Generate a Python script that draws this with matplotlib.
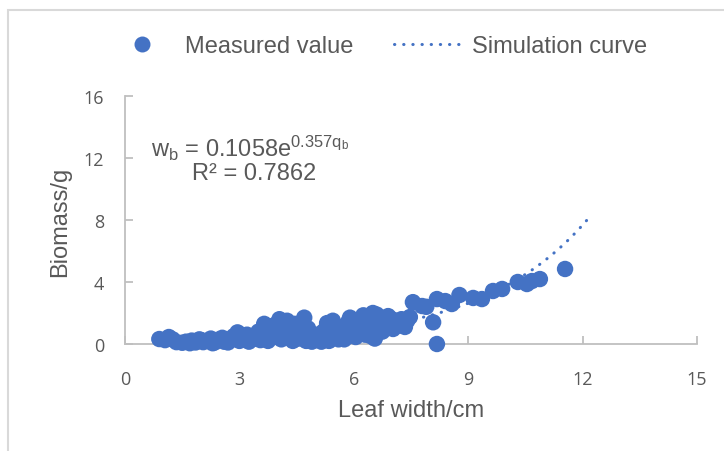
import numpy as np
import matplotlib
matplotlib.use("Agg")
import matplotlib.pyplot as plt
from matplotlib.lines import Line2D
from matplotlib.patches import Rectangle

# ---------------- data ----------------
leaf_width = [0.9, 1.05, 1.15, 1.25, 1.35, 1.5, 1.6, 1.7, 1.75, 1.85, 1.95, 2.0, 2.05, 2.15,
              2.25, 2.3, 2.35, 2.45, 2.55, 2.6, 2.7, 2.75, 2.85, 2.95, 3.0, 3.05, 3.1,
              3.2, 3.25, 3.3, 3.4, 3.45, 3.5, 3.55, 3.6, 3.65, 3.7, 3.75, 3.8, 3.85,
              3.9, 3.95, 4.0, 4.05, 4.1, 4.15, 4.2, 4.25, 4.3, 4.35, 4.4, 4.45, 4.5,
              4.55, 4.6, 4.65, 4.7, 4.75, 4.8, 4.85, 4.9, 4.95, 5.0, 5.05, 5.15, 5.2,
              5.25, 5.3, 5.35, 5.4, 5.45, 5.5, 5.6, 5.65, 5.7, 5.75, 5.8, 5.85, 5.9,
              5.95, 6.0, 6.05, 6.1, 6.15, 6.2, 6.25, 6.3, 6.35, 6.4, 6.45, 6.5, 6.55,
              6.6, 6.6, 6.7, 6.75, 6.8, 6.85, 6.9, 7.0, 7.03, 7.1, 7.2, 7.25, 7.34,
              7.4, 7.47, 7.55, 7.79, 7.9, 8.08, 8.18, 8.18, 8.4, 8.57, 8.77, 9.13,
              9.36, 9.65, 9.89, 10.3, 10.54, 10.67, 10.88, 11.54]
biomass = [0.32, 0.25, 0.45, 0.30, 0.12, 0.08, 0.15, 0.05, 0.22, 0.10, 0.30, 0.25, 0.12,
           0.20, 0.35, 0.05, 0.10, 0.28, 0.40, 0.15, 0.10, 0.30, 0.50, 0.75, 0.20, 0.60,
           0.45, 0.60, 0.15, 0.30, 0.50, 0.35, 0.80, 0.25, 0.90, 1.30, 0.60, 0.20, 0.40,
           0.95, 1.20, 0.70, 0.45, 1.60, 0.30, 0.80, 1.10, 1.50, 0.50, 0.85, 0.20, 1.30,
           1.00, 0.35, 0.70, 0.50, 1.70, 0.20, 1.00, 0.50, 0.15, 0.30, 0.40, 0.60, 0.15,
           0.80, 0.40, 1.35, 0.20, 0.70, 1.50, 1.00, 0.30, 0.90, 0.55, 0.30, 1.20, 1.40,
           1.70, 0.80, 1.15, 0.45, 1.50, 0.70, 1.00, 1.85, 0.60, 1.70, 1.30, 0.50, 2.00,
           0.35, 1.00, 1.90, 1.60, 0.80, 1.30, 1.50, 1.80, 1.60, 0.97, 1.40, 1.20, 1.60,
           1.10, 1.50, 1.74, 2.70, 2.45, 2.40, 1.40, 0.00, 2.90, 2.77, 2.58, 3.16, 2.97,
           2.90, 3.42, 3.55, 4.00, 3.87, 4.06, 4.19, 4.84]

fit_a = 0.1058
fit_b = 0.357
fit_x_range = [0.9, 12.2]

x_ticks = [0, 3, 6, 9, 12, 15]
y_ticks = [0, 4, 8, 12, 16]

legend_labels = ["Measured value", "Simulation curve"]
x_title = "Leaf width/cm"
y_title = "Biomass/g"
eq_line1 = r"w$\mathregular{_b}$ = 0.1058e$\mathregular{^{0.357q_b}}$"
eq_line2 = "R² = 0.7862"

# ---------------- style ----------------
BLUE = "#4472C4"
TXT = "#595959"
AX = "#BFBFBF"
plt.rcParams["font.family"] = ["Liberation Sans", "DejaVu Sans"]
plt.rcParams["mathtext.fontset"] = "custom"
plt.rcParams["mathtext.rm"] = "Liberation Sans"
plt.rcParams["mathtext.it"] = "Liberation Sans"

W, H = 724, 452
fig = plt.figure(figsize=(W / 100, H / 100), dpi=100)

def fx(px):
    return px / W

def fy(py):
    return 1 - py / H

ax = fig.add_axes([fx(125), fy(345), fx(697) - fx(125), fy(97) - fy(345)])

ax.scatter(leaf_width, biomass, s=140, color=BLUE, edgecolors="none", zorder=3,
           clip_on=False)

cx = np.linspace(fit_x_range[0], fit_x_range[1], 300)
cy = fit_a * np.exp(fit_b * cx)
ax.plot(cx, cy, color=BLUE, lw=2.2, dashes=(0.1, 2.9), dash_capstyle="round",
        zorder=4)

ax.set_xlim(0, 15)
ax.set_ylim(0, 16)
ax.set_xticks(x_ticks)
ax.set_yticks(y_ticks)
for side in ("top", "right"):
    ax.spines[side].set_visible(False)
for side in ("left", "bottom"):
    ax.spines[side].set_color(AX)
    ax.spines[side].set_linewidth(1.3)
ax.tick_params(axis="both", direction="in", length=6, width=1.3, color=AX,
               labelcolor=TXT, labelsize=13)
ax.tick_params(axis="x", pad=19)
ax.tick_params(axis="y", pad=15)
for lab in ax.get_xticklabels() + ax.get_yticklabels():
    lab.set_fontfamily(["Open Sans", "DejaVu Sans"])

fig.text(fx(411), fy(411), x_title, ha="center", va="center", fontsize=17, color=TXT)
fig.text(fx(60), fy(222), y_title, ha="center", va="center", fontsize=17, color=TXT,
         rotation=90)

fig.text(fx(250), fy(148), eq_line1, ha="center", va="center", fontsize=17, color=TXT)
fig.text(fx(254), fy(174), eq_line2, ha="center", va="center", fontsize=17, color=TXT)

handles = [
    Line2D([], [], ls="none", marker="o", markersize=11.5, color=BLUE, markeredgewidth=0),
    Line2D([], [], color=BLUE, lw=2.2, dashes=(0.1, 2.9), dash_capstyle="round"),
]
fig.legend(handles, legend_labels, loc="center", bbox_to_anchor=(fx(377), fy(47)),
           ncol=2, frameon=False, fontsize=17, labelcolor=TXT, handlelength=3.0,
           handletextpad=0.3, columnspacing=1.75)

fig.patches.append(Rectangle((fx(8), fy(470)), 1.2, fy(11) - fy(470),
                             transform=fig.transFigure, fill=False,
                             edgecolor="#D9D9D9", lw=1.5))

fig.savefig("out.png", dpi=100)
